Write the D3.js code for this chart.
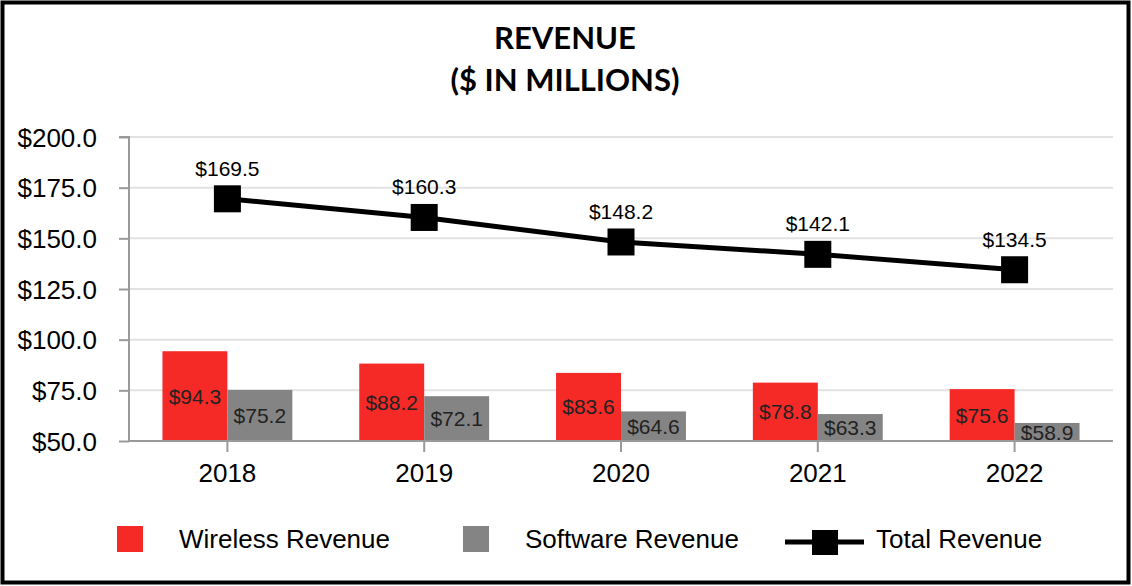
<!DOCTYPE html>
<html><head><meta charset="utf-8">
<script src="https://cdn.jsdelivr.net/npm/d3@7"></script>
<style>html,body{margin:0;padding:0;background:#fff;}</style>
</head><body>
<svg id="c" width="1132" height="586"></svg>
<script>
(function(){
const years = ["2018","2019","2020","2021","2022"];
const wireless = [94.3, 88.2, 83.6, 78.8, 75.6];
const software = [75.2, 72.1, 64.6, 63.3, 58.9];
const total = [169.5, 160.3, 148.2, 142.1, 134.5];
const yTicks = [50, 75, 100, 125, 150, 175, 200];
const titleLines = ["REVENUE", "($ IN MILLIONS)"];
const seriesNames = ["Wireless Revenue", "Software Revenue", "Total Revenue"];
const colors = {wireless: "#f52a27", software: "#848484", total: "#000"};

const svg = d3.select("#c");
const W = 1132, H = 586;
svg.append("rect").attr("x", 2.5).attr("y", 2.5).attr("width", W - 6).attr("height", H - 6)
  .attr("fill", "#fff").attr("stroke", "#000").attr("stroke-width", 4);

const pL = 129, pR = 1113, pT = 137, pB = 441;
const x = d3.scaleBand().domain(years).range([pL, pR]);
const y = d3.scaleLinear().domain([50, 200]).range([pB, pT]);
const barW = x.bandwidth() * 0.33;
const font = "'Liberation Sans', Arial, sans-serif";

// title
svg.append("g").selectAll("text").data(titleLines).join("text")
  .attr("x", 565).attr("y", (d, i) => 49 + i * 42)
  .attr("text-anchor", "middle")
  .attr("font-family", "Lato, 'Open Sans', sans-serif").attr("font-weight", "bold")
  .attr("font-size", 31).attr("fill", "#000").text(d => d);

// grid
svg.append("g").selectAll("line").data(yTicks).join("line")
  .attr("x1", pL).attr("x2", pR).attr("y1", d => y(d)).attr("y2", d => y(d))
  .attr("stroke", "#e2e2e2").attr("stroke-width", 2);

// y axis
const yAxis = d3.axisLeft(y).tickValues(yTicks).tickSize(10).tickPadding(22)
  .tickFormat(d => "$" + d3.format(".1f")(d));
const ga = svg.append("g").attr("transform", `translate(${pL},0)`).call(yAxis)
  .attr("font-family", font).attr("font-size", 26);
ga.select(".domain").attr("stroke", "#9a9a9a").attr("stroke-width", 2).attr("d", `M-10,${pT}H0V${pB}`);
ga.selectAll(".tick line").attr("stroke", "#9a9a9a").attr("stroke-width", 2);
ga.selectAll(".tick text").attr("fill", "#000").attr("dy", "0.35em");

// bars
const gb = svg.append("g");
gb.selectAll(".w").data(years).join("rect")
  .attr("x", d => x(d) + x.bandwidth() / 2 - barW)
  .attr("y", (d, i) => y(wireless[i])).attr("width", barW)
  .attr("height", (d, i) => pB - y(wireless[i])).attr("fill", colors.wireless);
gb.selectAll(".s").data(years).join("rect")
  .attr("x", d => x(d) + x.bandwidth() / 2)
  .attr("y", (d, i) => y(software[i])).attr("width", barW)
  .attr("height", (d, i) => pB - y(software[i])).attr("fill", colors.software);

// x axis
const xAxis = d3.axisBottom(x).tickSize(11).tickPadding(12);
const gx = svg.append("g").attr("transform", `translate(0,${pB})`).call(xAxis)
  .attr("font-family", font).attr("font-size", 26);
gx.select(".domain").attr("stroke", "#9a9a9a").attr("stroke-width", 2).attr("d", `M${pL},0H${pR}`);
gx.selectAll(".tick line").attr("stroke", "#9a9a9a").attr("stroke-width", 2);
gx.selectAll(".tick text").attr("fill", "#000").attr("dy", "0.71em");

// bar labels
gb.selectAll(".wl").data(years).join("text")
  .attr("x", d => x(d) + x.bandwidth() / 2 - barW / 2)
  .attr("y", (d, i) => (y(wireless[i]) + pB) / 2 + 2)
  .attr("text-anchor", "middle").attr("dominant-baseline", "middle")
  .attr("font-family", font).attr("font-size", 21).attr("fill", "#222")
  .text((d, i) => "$" + wireless[i].toFixed(1));
gb.selectAll(".sl").data(years).join("text")
  .attr("x", d => x(d) + x.bandwidth() / 2 + barW / 2)
  .attr("y", (d, i) => (y(software[i]) + pB) / 2 + 2)
  .attr("text-anchor", "middle").attr("dominant-baseline", "middle")
  .attr("font-family", font).attr("font-size", 21).attr("fill", "#222")
  .text((d, i) => "$" + software[i].toFixed(1));

// total line
const cx = d => x(d) + x.bandwidth() / 2;
const line = d3.line().x((d, i) => cx(years[i])).y(d => y(d));
svg.append("path").datum(total).attr("d", line).attr("fill", "none")
  .attr("stroke", colors.total).attr("stroke-width", 5);
const ms = 27;
svg.append("g").selectAll("rect").data(total).join("rect")
  .attr("x", (d, i) => cx(years[i]) - ms / 2).attr("y", d => y(d) - ms / 2)
  .attr("width", ms).attr("height", ms).attr("fill", colors.total);
svg.append("g").selectAll("text").data(total).join("text")
  .attr("x", (d, i) => cx(years[i])).attr("y", d => y(d) - 23)
  .attr("text-anchor", "middle")
  .attr("font-family", font).attr("font-size", 21).attr("fill", "#000")
  .text(d => "$" + d.toFixed(1));

// legend
const lg = svg.append("g");
lg.append("rect").attr("x", 117).attr("y", 526).attr("width", 26).attr("height", 26).attr("fill", colors.wireless);
lg.append("text").attr("x", 179).attr("y", 548).text(seriesNames[0]);
lg.append("rect").attr("x", 463).attr("y", 526).attr("width", 26).attr("height", 26).attr("fill", colors.software);
lg.append("text").attr("x", 525).attr("y", 548).text(seriesNames[1]);
lg.append("line").attr("x1", 785).attr("x2", 864).attr("y1", 542).attr("y2", 542)
  .attr("stroke", colors.total).attr("stroke-width", 5);
lg.append("rect").attr("x", 812).attr("y", 530).attr("width", 26).attr("height", 25).attr("fill", colors.total);
lg.append("text").attr("x", 876).attr("y", 548).text(seriesNames[2]);
lg.selectAll("text").attr("font-family", font).attr("font-size", 26).attr("fill", "#000");
})();
</script>
</body></html>
